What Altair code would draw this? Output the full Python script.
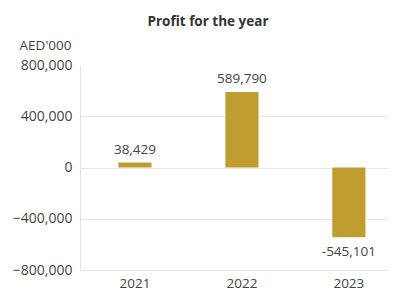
import altair as alt
import pandas as pd

years = ["2021", "2022", "2023"]
profit = [38429, 589790, -545101]
labels = ["38,429", "589,790", "-545,101"]

df = pd.DataFrame({"year": years, "profit": profit, "label": labels})

FONT = "Open Sans"
TXT = "#444444"

x = alt.X("year:N", title=None, sort=years,
          scale=alt.Scale(paddingInner=0.69, paddingOuter=0.285, align=0.63),
          axis=alt.Axis(labelAngle=0, domain=False, ticks=False, labelPadding=6,
                        labelBaseline="top",
                        labelFont=FONT, labelFontSize=13.5, labelColor=TXT))
y = alt.Y("profit:Q", title="AED'000",
          scale=alt.Scale(domain=[-800000, 800000], nice=False),
          axis=alt.Axis(values=[-800000, -400000, 0, 400000, 800000],
                        labelExpr="format(datum.value, ',')",
                        domain=True, domainColor="#e3e3e3", ticks=False, labelPadding=8,
                        gridColor="#e6e6e6",
                        gridOpacity=alt.ExprRef("datum.value == 800000 ? 0 : 1"),
                        labelFont=FONT, labelFontSize=14, labelColor=TXT,
                        titleAngle=0, titleAlign="right", titleBaseline="alphabetic",
                        titleX=-9, titleY=-16, titleFont=FONT, titleFontSize=13.5,
                        titleFontWeight="normal", titleColor=TXT))

bars = alt.Chart(df).mark_bar(color="#C09D30").encode(x=x, y=y)

pos_text = alt.Chart(df).transform_filter("datum.profit >= 0").mark_text(
    baseline="alphabetic", dy=-9, font=FONT, fontSize=13.5, color=TXT
).encode(x=alt.X("year:N", sort=years), y="profit:Q", text="label:N")

neg_text = alt.Chart(df).transform_filter("datum.profit < 0").mark_text(
    baseline="top", dy=8, font=FONT, fontSize=13.5, color=TXT
).encode(x=alt.X("year:N", sort=years), y="profit:Q", text="label:N")

chart = alt.layer(bars, pos_text, neg_text).properties(
    width=308, height=205,
    title=alt.TitleParams("Profit for the year", font=FONT, fontSize=13.5,
                          fontWeight="bold", color="#333333", anchor="middle",
                          dx=-26, offset=10),
    autosize=alt.AutoSizeParams(type="none"),
    padding={"left": 72, "top": 57, "right": 0, "bottom": 21},
).configure_view(stroke=None)

chart.save("out.html", embed_options={"renderer": "svg", "actions": False})
